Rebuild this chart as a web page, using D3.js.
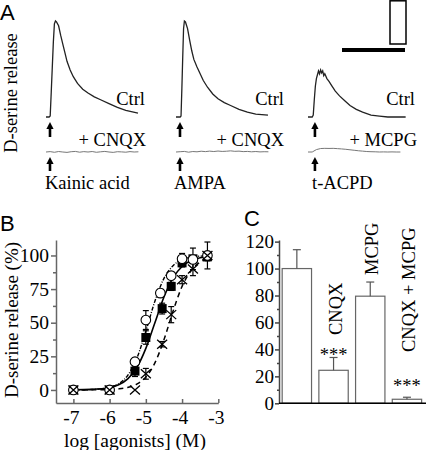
<!DOCTYPE html>
<html><head><meta charset="utf-8">
<script src="https://cdn.jsdelivr.net/npm/d3@7"></script>
<style>
body{margin:0;background:#fff}
svg{display:block}
text{font-family:"Liberation Serif","Times New Roman",serif;fill:#000}
.plab{font-family:"Liberation Sans",Arial,sans-serif}
</style></head><body>
<svg id="c" width="426" height="450"></svg>
<script>
// ================= DATA =================
// Panel A : time courses (time in s, release in % of kainate peak)
const traceNames = ["Kainic acid", "AMPA", "t-ACPD"];
const ctrlLabels = ["Ctrl", "Ctrl", "Ctrl"];
const blockLabels = ["+ CNQX", "+ CNQX", "+ MCPG"];
const stimulusTimes = [19, 19, 33];

const kainicT    = [0,15,20,25,30,35,40,45,50,60,70,80,90,100,115,130,150,175,200,230,260,300,340,380,438];
const kainicCtrl = [0,0,1,26,52,78,97,100,99,95,85,76,67,58,49,42,35,29,25,21,18,14,10,7,4];

const ampaT    = [0,20,24,28,32,36,40,45,55,65,75,85,100,115,130,150,175,200,230,260,300,340,380,438];
const ampaCtrl = [0,0,1,30,62,92,100,99,92,80,69,60,52,45,38,31,24,19,15,12,8,5,3,2];

const acpdT    = [0,20,25,30,35,40,45,50,55,60,65,70,75,80,90,100,115,130,150,175,200,230,260,300,340,380,420,465];
const acpdCtrl = [0,0,2,18,32,40,44,48,45,49,46,48,43,45,40,37,32,27,22,17,12,8,5,2,1,0,0,0];

const flatT      = [0,20,40,60,80,100,120,140,160,180,200,220,240,260,280,300,320,340,360,380,400,420,440];
const kainicCnqx = [0,0.4,-0.3,0.5,0,-0.4,0.3,0.6,-0.2,0.4,0,0.5,-0.3,0.2,0.6,0,-0.4,0.3,0.1,-0.2,0.4,0,0.2];
const ampaCnqx   = [0,0.3,0.6,-0.2,0.5,0.2,0.8,0.4,0.9,0.5,1.0,0.6,0.8,1.2,0.7,0.9,0.4,0.6,0.2,0.5,0.1,0.3,0.2];
const acpdMcpg   = [0,0,2.5,3.6,3.8,3.7,3.8,3.5,3.2,2.8,2.3,1.8,1.3,0.9,0.5,0.3,0.2,0,0.1,0,0.1,0,0];

const scaleBarTime = 300;     // s
const scaleBarRelease = 45;   // %

// Panel B : concentration-response (log M, % release)
const xTicksB = [-7, -6, -5, -4, -3];
const yTicksB = [0, 25, 50, 75, 100];
const circleX   = [-7, -6, -5.3, -5, -4.6, -4.3, -4, -3.7, -3.3];
const circleY   = [0, 0, 21, 52, 72, 85, 97.5, 97, 100];
const circleErr = [0, 0, 3, 7, 3, 2, 4, 3, 3];
const squareX   = [-7, -6, -5.3, -5, -4.55, -4.3, -4, -3.7, -3.3];
const squareY   = [0, 0, 14, 39, 60.5, 77, 94.5, 97.5, 99];
const squareErr = [0, 0, 4, 5, 4, 3, 3, 8, 3];
const crossX    = [-7, -6, -5.3, -5, -4.55, -4.3, -4, -3.7, -3.3];
const crossY    = [0, 0, 0, 12, 34, 56, 82, 90, 100];
const crossErr  = [0, 0, 0, 4, 2, 6, 3, 5, 10];
const fitX      = [-7, -6.5, -6, -5.75, -5.5, -5.25, -5, -4.75, -4.5, -4.25, -4, -3.75, -3.5, -3.3];
const fitCircle = [0, 0.3, 1.9, 4.6, 10.9, 23.5, 43.6, 66, 83, 92.4, 96.9, 98.7, 99.5, 99.8];
const fitSquare = [0.1, 0.4, 1.8, 3.8, 8.2, 16.6, 30.9, 50, 69.1, 83.4, 91.8, 96.2, 98.3, 99.1];
const fitCross  = [0, 0.1, 0.3, 0.8, 1.9, 4.3, 9.6, 20.1, 37.3, 58.5, 77, 88.8, 95, 97.4];

// Panel C : bars
const barCategories = ["Ctrl", "CNQX", "MCPG", "CNQX + MCPG"];
const barShowLabel  = [false, true, true, true];
const barValues     = [100, 24.5, 79.5, 3];
const barErrors     = [14, 9.5, 10.5, 1.5];
const barSignif     = ["", "***", "", "***"];
const yTicksC       = [0, 20, 40, 60, 80, 100, 120];

// ================= DRAW =================
const svg = d3.select("#c");
const zip = (a, b) => a.map((d, i) => [d, b[i]]);
const SERIF = '"Liberation Serif","Times New Roman",serif';

// ---- panel letters
svg.append("text").attr("class","plab").attr("x",0).attr("y",20).attr("font-size",22).text("A");
svg.append("text").attr("class","plab").attr("x",0).attr("y",231).attr("font-size",22).text("B");
svg.append("text").attr("class","plab").attr("x",244).attr("y",226).attr("font-size",22).text("C");

// ---- Panel A
const xA = d3.scaleLinear().domain([0, 300]).range([0, 63]);
const yA = d3.scaleLinear().domain([0, 100]).range([0, -96]);
const lineA = d3.line().x(d => xA(d[0])).y(d => yA(d[1]));
const ctrlSeries = [zip(kainicT, kainicCtrl), zip(ampaT, ampaCtrl), zip(acpdT, acpdCtrl)];
const blockSeries = [zip(flatT, kainicCnqx), zip(flatT, ampaCnqx), zip(flatT, acpdMcpg)];
const originX = [46, 176, 308];
const row1 = 117, row2 = 152;
const ctrlRight = [145, 284, 415];
const blockRight = [146, 284, 417];
const nameLeft = [45, 174, 312];

svg.append("text").attr("transform","translate(17,93) rotate(-90)")
  .attr("text-anchor","middle").attr("font-size",18.5).text("D-serine release");

function arrow(x, yTop, yBot) {
  const g = svg.append("g");
  g.append("line").attr("x1",x).attr("x2",x).attr("y1",yTop+5).attr("y2",yBot)
    .attr("stroke","#000").attr("stroke-width",2.6);
  g.append("path").attr("d",`M${x-3.6},${yTop+7}L${x},${yTop}L${x+3.6},${yTop+7}Z`).attr("fill","#000");
}

ctrlSeries.forEach((s, i) => {
  svg.append("path").attr("transform",`translate(${originX[i]},${row1})`)
    .attr("d", lineA(s)).attr("fill","none").attr("stroke","#222").attr("stroke-width",1.3);
  svg.append("path").attr("transform",`translate(${originX[i]},${row2})`)
    .attr("d", lineA(blockSeries[i])).attr("fill","none").attr("stroke","#777").attr("stroke-width",1);
  const ax = originX[i] + xA(stimulusTimes[i]);
  arrow(ax, 122, 137);
  arrow(ax, 157, 171);
  svg.append("text").attr("x",ctrlRight[i]).attr("y",105).attr("text-anchor","end").attr("font-size",18.5).text(ctrlLabels[i]);
  svg.append("text").attr("x",blockRight[i]).attr("y",146).attr("text-anchor","end").attr("font-size",18.5).text(blockLabels[i]);
  svg.append("text").attr("x",nameLeft[i]).attr("y",189).attr("font-size",18.5).text(traceNames[i]);
});

// scale bars
const sbX = 342, sbY = 50;
svg.append("line").attr("x1",sbX).attr("x2",sbX + xA(scaleBarTime)).attr("y1",sbY).attr("y2",sbY)
  .attr("stroke","#000").attr("stroke-width",4);
const rh = -yA(scaleBarRelease);
svg.append("rect").attr("x",390).attr("y",44 - rh).attr("width",16).attr("height",rh)
  .attr("fill","none").attr("stroke","#000").attr("stroke-width",1.5);

// ---- Panel B
const xB = d3.scaleLinear().domain([-7.48, -3.0]).range([56, 218.3]);
const yB = d3.scaleLinear().domain([-9.7, 111.5]).range([403, 240]);

const gyB = svg.append("g").attr("transform","translate(56,0)")
  .call(d3.axisLeft(yB).tickValues(yTicksB).tickSize(5).tickSizeOuter(0).tickPadding(2).tickFormat(d => String(d)));
const gyBm = svg.append("g").attr("transform","translate(56,0)")
  .call(d3.axisLeft(yB).tickValues([12.5, 37.5, 62.5, 87.5]).tickSize(3).tickSizeOuter(0).tickFormat(""));
gyBm.select(".domain").remove();
const gxB = svg.append("g").attr("transform","translate(0,403)")
  .call(d3.axisBottom(xB).tickValues(xTicksB).tickSize(-4).tickSizeOuter(0).tickFormat(d => String(d)));
[gyB, gyBm, gxB].forEach(g => {
  g.selectAll("path,line").attr("stroke","#666").attr("stroke-width",1.5);
  g.selectAll("text").attr("font-family",SERIF).attr("font-size",19.5).attr("fill","#000");
});
gxB.selectAll("text").attr("y",21).attr("dy",0).attr("dx",-2.5);

svg.append("text").attr("x",135).attr("y",447).attr("text-anchor","middle").attr("font-size",19.5).text("log [agonists] (M)");
svg.append("text").attr("transform","translate(18,320) rotate(-90)")
  .attr("text-anchor","middle").attr("font-size",19).text("D-serine release (%)");

const lineB = d3.line().x(d => xB(d[0])).y(d => yB(d[1])).curve(d3.curveMonotoneX);
svg.append("path").attr("d", lineB(zip(fitX, fitSquare))).attr("fill","none").attr("stroke","#000").attr("stroke-width",1.6);
svg.append("path").attr("d", lineB(zip(fitX, fitCircle))).attr("fill","none").attr("stroke","#000").attr("stroke-width",1.4).attr("stroke-dasharray","4,1.5,1,1.5");
svg.append("path").attr("d", lineB(zip(fitX, fitCross))).attr("fill","none").attr("stroke","#000").attr("stroke-width",1.5).attr("stroke-dasharray","5,4");

function errB(xs, ys, es) {
  xs.forEach((x, i) => {
    if (!es[i]) return;
    const cx = xB(x), y1 = yB(ys[i] - es[i]), y2 = yB(ys[i] + es[i]);
    svg.append("line").attr("x1",cx).attr("x2",cx).attr("y1",y1).attr("y2",y2).attr("stroke","#000").attr("stroke-width",1.2);
    [y1, y2].forEach(y => svg.append("line").attr("x1",cx-3).attr("x2",cx+3).attr("y1",y).attr("y2",y).attr("stroke","#000").attr("stroke-width",1.2));
  });
}
errB(squareX, squareY, squareErr);
errB(circleX, circleY, circleErr);
errB(crossX, crossY, crossErr);

svg.append("g").selectAll("rect").data(zip(squareX, squareY)).join("rect")
  .attr("x", d => xB(d[0]) - 4.5).attr("y", d => yB(d[1]) - 4.5).attr("width",9).attr("height",9).attr("fill","#000");
svg.append("g").selectAll("circle").data(zip(circleX, circleY)).join("circle")
  .attr("cx", d => xB(d[0])).attr("cy", d => yB(d[1])).attr("r",4.8)
  .attr("fill","#fff").attr("stroke","#000").attr("stroke-width",1.1);
svg.append("g").selectAll("path").data(zip(crossX, crossY)).join("path")
  .attr("d", d => { const x = xB(d[0]), y = yB(d[1]); return `M${x-5},${y-4.5}L${x+5},${y+4.5}M${x-5},${y+4.5}L${x+5},${y-4.5}`; })
  .attr("stroke","#000").attr("stroke-width",1.3).attr("fill","none");

// ---- Panel C
const xC = d3.scaleBand().domain(barCategories).range([278.5, 425.3]).paddingInner(0.2).paddingOuter(0.1);
const yC = d3.scaleLinear().domain([0, 121.2]).range([403.3, 240]);

const gyC = svg.append("g").attr("transform","translate(279,0)")
  .call(d3.axisLeft(yC).tickValues(yTicksC).tickSize(4).tickSizeOuter(0).tickPadding(1).tickFormat(d => String(d)));
const gyCm = svg.append("g").attr("transform","translate(279,0)")
  .call(d3.axisLeft(yC).tickValues([10,30,50,70,90,110]).tickSize(2).tickSizeOuter(0).tickFormat(""));
gyCm.select(".domain").remove();
[gyC, gyCm].forEach(g => {
  g.selectAll("path,line").attr("stroke","#444").attr("stroke-width",1.5);
  g.selectAll("text").attr("font-family",SERIF).attr("font-size",19).attr("fill","#000");
});

svg.append("g").selectAll("rect").data(barCategories).join("rect")
  .attr("x", d => xC(d)).attr("width", xC.bandwidth())
  .attr("y", (d, i) => yC(barValues[i])).attr("height", (d, i) => yC(0) - yC(barValues[i]))
  .attr("fill","#fff").attr("stroke","#666").attr("stroke-width",1.2);

barCategories.forEach((c, i) => {
  const cx = xC(c) + xC.bandwidth() / 2;
  const yt = yC(barValues[i] + barErrors[i]);
  svg.append("line").attr("x1",cx).attr("x2",cx).attr("y1",yC(barValues[i])).attr("y2",yt).attr("stroke","#555").attr("stroke-width",1.2);
  svg.append("line").attr("x1",cx-4).attr("x2",cx+4).attr("y1",yt).attr("y2",yt).attr("stroke","#555").attr("stroke-width",1.2);
});

svg.append("line").attr("x1",279).attr("x2",426).attr("y1",403.3).attr("y2",403.3).attr("stroke","#000").attr("stroke-width",1.6);

const labelBottom = [0, 335, 275, 352];
const signifBase = [0, 361, 0, 392];
barCategories.forEach((c, i) => {
  const cx = xC(c) + xC.bandwidth() / 2;
  if (barShowLabel[i]) {
    svg.append("text").attr("transform",`translate(${cx + 8},${labelBottom[i]}) rotate(-90)`)
      .attr("font-size",18.5).text(c);
  }
  if (barSignif[i]) {
    svg.append("text").attr("x",cx).attr("y",signifBase[i]).attr("text-anchor","middle")
      .attr("font-size",18.5).attr("fill","#333").text(barSignif[i]);
  }
});
</script>
</body></html>
